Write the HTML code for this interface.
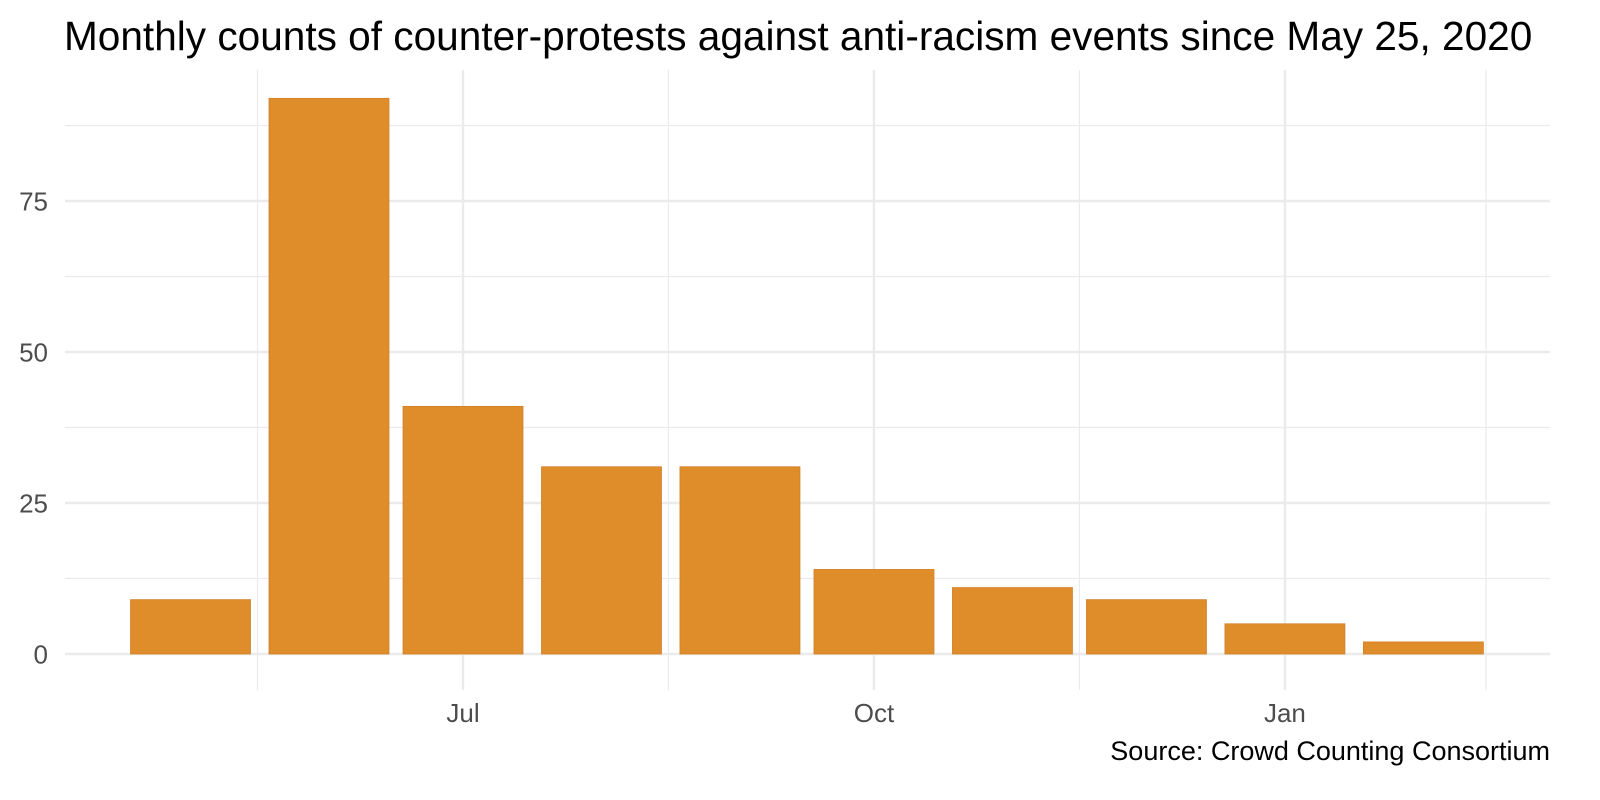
<!DOCTYPE html>
<html><head><meta charset="utf-8"><style>
body{margin:0;background:#fff}
svg{display:block;font-family:"Liberation Sans",Arial,sans-serif}
</style></head><body>
<svg id="chart" width="1600" height="800">
<text x="64" y="50" font-size="40.6" fill="#000">Monthly counts of counter-protests against anti-racism events since May 25, 2020</text>
<g id="grid"></g>
<g id="bars"></g>
<g id="axes"></g>
<text x="1550" y="760" font-size="27" text-anchor="end" fill="#000">Source: Crowd Counting Consortium</text>
</svg>
<script>
const months = ["2020-05-01","2020-06-01","2020-07-01","2020-08-01","2020-09-01","2020-10-01","2020-11-01","2020-12-01","2021-01-01","2021-02-01"];
const counts = [9,92,41,31,31,14,11,9,5,2];
const yTicks = [0,25,50,75];
const yMinor = [12.5,37.5,62.5,87.5];
const xTickDates = ["2020-07-01","2020-10-01","2021-01-01"];
const xTickLabels = ["Jul","Oct","Jan"];
const xMinorDates = ["2020-05-16","2020-08-16","2020-11-16","2021-02-15"];

const NS="http://www.w3.org/2000/svg";
const ref=Date.UTC(2020,6,1);
function day(s){return (Date.parse(s+"T00:00:00Z")-ref)/86400000;}
function x(s){return 463+day(s)*4.467;}
function y(v){return 654-v*6.04;}
function mk(tag,attrs,parent){const e=document.createElementNS(NS,tag);for(const k in attrs)e.setAttribute(k,attrs[k]);parent.appendChild(e);return e;}
const grid=document.getElementById('grid'),bars=document.getElementById('bars'),axes=document.getElementById('axes');
const L=65,R=1550,T=70,B=690;
yMinor.forEach(v=>{const l=mk('line',{x1:L,x2:R,y1:y(v),y2:y(v),stroke:'#ebebeb','stroke-width':1.2},grid);

});
xMinorDates.forEach(d=>{const l=mk('line',{x1:x(d),x2:x(d),y1:T,y2:B,stroke:'#ebebeb','stroke-width':1.2},grid);

});
yTicks.forEach(v=>{const l=mk('line',{x1:L,x2:R,y1:y(v),y2:y(v),stroke:'#ebebeb','stroke-width':2.4},grid);


const t=mk('text',{x:48,y:y(v)+9.5,'font-size':26,'text-anchor':'end',fill:'#4d4d4d'},axes);t.textContent=v;

});
xTickDates.forEach((d,i)=>{const l=mk('line',{x1:x(d),x2:x(d),y1:T,y2:B,stroke:'#ebebeb','stroke-width':2.4},grid);


const t=mk('text',{x:x(d),y:722,'font-size':26,'text-anchor':'middle',fill:'#4d4d4d'},axes);t.textContent=xTickLabels[i];

});
months.forEach((m,i)=>{const w=120;const cx=x(m);const r=mk('rect',{x:cx-w/2,y:y(counts[i]),width:w,height:y(0)-y(counts[i]),fill:'#DE8D2A',stroke:'#D2802A','stroke-width':0.8},bars);

});
</script>
</body></html>
